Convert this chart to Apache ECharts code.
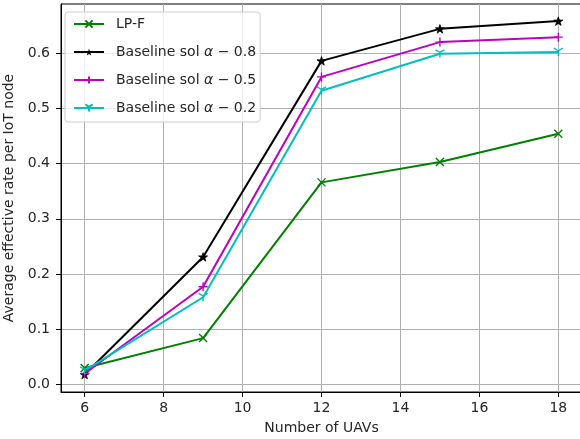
<!DOCTYPE html>
<html>
<head>
<meta charset="utf-8">
<script src="https://cdn.jsdelivr.net/npm/echarts@6/dist/echarts.min.js"></script>
<style>
html,body{margin:0;padding:0;background:#fff;}
#chart{width:580px;height:439px;}
</style>
</head>
<body>
<div id="chart"></div>
<script>
const uavs = [6, 9, 12, 15, 18];
const lpF = [0.030, 0.084, 0.366, 0.403, 0.454];
const base08 = [0.018, 0.231, 0.586, 0.644, 0.658];
const base05 = [0.020, 0.177, 0.557, 0.620, 0.629];
const base02 = [0.025, 0.158, 0.532, 0.599, 0.602];
const xTicks = [6, 8, 10, 12, 14, 16, 18];
const yTicks = [0.0, 0.1, 0.2, 0.3, 0.4, 0.5, 0.6];

const FONT = 'DejaVu Sans';
const SYM_X = 'path://M0,0L10,10M10,0L0,10';
const SYM_STAR = 'path://M5,0L6.123,3.455L9.755,3.455L6.817,5.59L7.939,9.045L5,6.91L2.061,9.045L3.183,5.59L0.245,3.455L3.877,3.455Z';
const SYM_PLUS = 'path://M5,0L5,10M0,5L10,5';
const SYM_TRI = 'path://M5,5L5,10M5,5L0.67,2.5M5,5L9.33,2.5';

function pairs(ys) { return uavs.map((x, i) => [x, ys[i]]); }

function mk(name, ys, color, symbol, size, filled) {
  return {
    name: name,
    type: 'line',
    data: pairs(ys),
    symbol: symbol,
    symbolSize: size,
    symbolKeepAspect: true,
    showAllSymbol: true,
    lineStyle: { color: color, width: 2 },
    itemStyle: { color: filled ? color : 'rgba(0,0,0,0)', borderColor: color, borderWidth: filled ? 0.8 : 1.4 },
    emphasis: { disabled: true },
    animation: false,
    z: 2
  };
}

const chart = echarts.init(document.getElementById('chart'), null, { renderer: 'canvas' });
chart.setOption({
  animation: false,
  backgroundColor: '#ffffff',
  textStyle: { fontFamily: FONT },
  grid: {
    left: 61, right: -2, top: 4, bottom: 47,
    outerBoundsMode: 'none', containLabel: false,
    show: true, borderColor: '#000000', borderWidth: 1, backgroundColor: 'transparent'
  },
  legend: {
    left: 65, top: 12, orient: 'vertical',
    padding: [5, 4, 7, 8],
    itemWidth: 30, itemHeight: 9, itemGap: 14,
    backgroundColor: 'rgba(255,255,255,0.8)',
    borderColor: '#cccccc', borderWidth: 1, borderRadius: 3,
    textStyle: {
      fontFamily: FONT, fontSize: 14, color: '#262626', padding: [0, 0, 0, 7],
      rich: {
        n: { fontFamily: FONT, fontSize: 14, color: '#262626' },
        a: { fontFamily: FONT, fontSize: 14, fontStyle: 'italic', color: '#262626' }
      }
    },
    formatter: function (name) {
      const m = name.match(/^Baseline sol α − (.*)$/);
      if (m) return '{n|Baseline sol }{a|α}{n| − ' + m[1] + '}';
      return name;
    },
    data: [
      'LP-F',
      { name: 'Baseline sol α − 0.8', itemStyle: { borderWidth: 0 } },
      'Baseline sol α − 0.5',
      'Baseline sol α − 0.2'
    ]
  },
  xAxis: {
    type: 'value',
    min: 5.4, max: 18.6,
    name: 'Number of UAVs',
    nameLocation: 'middle', nameGap: 29,
    nameTextStyle: { fontFamily: FONT, fontSize: 14, color: '#262626' },
    axisLine: { show: true, onZero: false, lineStyle: { color: '#000', width: 1 } },
    axisTick: { show: true, length: 5, inside: false, lineStyle: { color: '#000', width: 1 }, customValues: xTicks },
    axisLabel: { fontFamily: FONT, fontSize: 14, color: '#262626', margin: 9, customValues: xTicks },
    splitLine: { show: true, lineStyle: { color: '#b0b0b0', width: 1 } }
  },
  yAxis: {
    type: 'value',
    min: -0.0136, max: 0.689,
    name: 'Average effective rate per IoT node',
    nameLocation: 'middle', nameGap: 40, nameRotate: 90,
    nameTextStyle: { fontFamily: FONT, fontSize: 14, color: '#262626' },
    axisLine: { show: true, onZero: false, lineStyle: { color: '#000', width: 1 } },
    axisTick: { show: true, length: 5, inside: false, lineStyle: { color: '#000', width: 1 }, customValues: yTicks },
    axisLabel: {
      fontFamily: FONT, fontSize: 14, color: '#262626', margin: 11, customValues: yTicks,
      formatter: v => v.toFixed(1)
    },
    splitLine: { show: true, lineStyle: { color: '#b0b0b0', width: 1 } }
  },
  series: [
    mk('LP-F', lpF, '#008000', SYM_X, 8, false),
    mk('Baseline sol α − 0.8', base08, '#000000', SYM_STAR, 9, true),
    mk('Baseline sol α − 0.5', base05, '#bf00bf', SYM_PLUS, 9, false),
    mk('Baseline sol α − 0.2', base02, '#00bfbf', SYM_TRI, 9, false)
  ]
});
</script>
</body>
</html>
